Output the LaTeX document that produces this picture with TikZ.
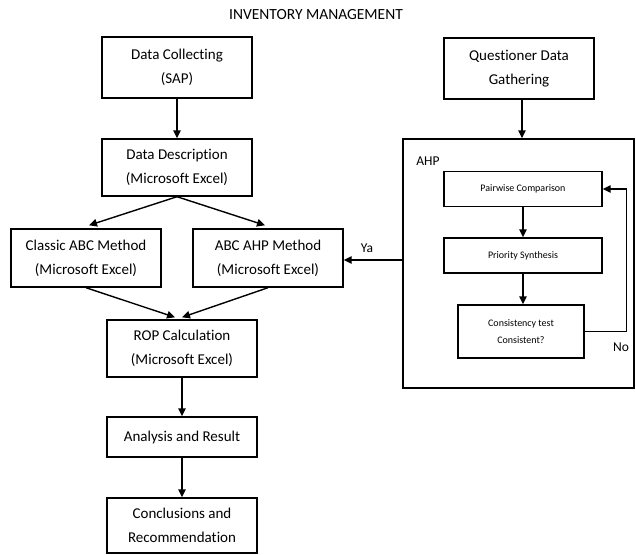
\documentclass[tikz,border=0pt]{standalone}
\usepackage{fontspec}
\setmainfont{Carlito}[Ligatures=NoCommon]
\usetikzlibrary{arrows.meta}
\tikzset{
  box/.style={draw,line width=1.4pt,minimum width=150pt,align=center,inner sep=2pt,font=\fontsize{15}{24}\selectfont},
  smallbox/.style={draw,line width=1.4pt,align=center,inner sep=2pt,font=\fontsize{10}{17}\selectfont},
  link/.style={line width=1.4pt,-{Triangle[length=8pt,width=7.5pt]}},
  lbl/.style={inner sep=0pt,font=\fontsize{13.5}{15}\selectfont}
}
\begin{document}
\begin{tikzpicture}[x=1pt,y=-1pt]
\useasboundingbox (0,0) rectangle (636,554);
\node (title) at (316,15) [lbl,font=\fontsize{15.5}{17}\selectfont] {INVENTORY MANAGEMENT};
%
\node (collect) at (177,67.5) [box,minimum height=61pt] {Data Collecting\\(SAP)};
\node (descr) at (177,167.5) [box,minimum height=57pt] {Data Description\\(Microsoft Excel)};
\node (classic) at (86,258) [box,minimum height=58pt] {Classic ABC Method\\(Microsoft Excel)};
\node (abcahp) at (268,258) [box,minimum height=58pt] {ABC AHP Method\\(Microsoft Excel)};
\node (rop) at (182,348.5) [box,minimum height=57pt] {ROP Calculation\\(Microsoft Excel)};
\node (result) at (182,437) [box,minimum height=40pt] {Analysis and Result};
\node (concl) at (182,525.5) [box,minimum height=55pt] {Conclusions and\\Recommendation};
%
\node (quest) at (519,68.5) [box,minimum height=61pt] {Questioner Data\\Gathering};
\node (ahp) at (518.5,263.5) [draw,line width=1.4pt,minimum width=231pt,minimum height=249pt] {};
\node (ahplbl) at (428,161) [lbl] {AHP};
\node (pair) at (523,189) [smallbox,minimum width=158pt,minimum height=35pt] {Pairwise Comparison};
\node (prio) at (523,255.5) [smallbox,minimum width=158pt,minimum height=35pt] {Priority Synthesis};
\node (cons) at (521,331.5) [smallbox,minimum width=126pt,minimum height=53pt] {Consistency test\\Consistent?};
\node (ya) at (367,248) [lbl] {Ya};
\node (no) at (621,347) [lbl] {No};
%%
\draw [link] (collect) -- (descr);
\draw [link] (descr.south) -- ([xshift=3pt,yshift=3pt]classic.north);
\draw [link] (descr.south) -- ([xshift=-3pt,yshift=3pt]abcahp.north);
\draw [link] (classic.south) -- ([xshift=-7pt,yshift=2pt]rop.north);
\draw [link] (abcahp.south) -- ([yshift=2pt]rop.north);
\draw [link] (rop) -- (result);
\draw [link] (result) -- (concl);
%
\draw [link] ([xshift=3pt]quest.south) -- ([xshift=3pt]quest.south |- ahp.north);
\draw [link] (pair) -- (prio);
\draw [link] (prio.south) -- (prio.south |- cons.north);
\draw [link] (cons.east) -| ([xshift=24pt]pair.east) -- (pair.east);
\draw [link] (ahp.west |- 0,260) -- (abcahp.east |- 0,260);
\end{tikzpicture}
\end{document}
